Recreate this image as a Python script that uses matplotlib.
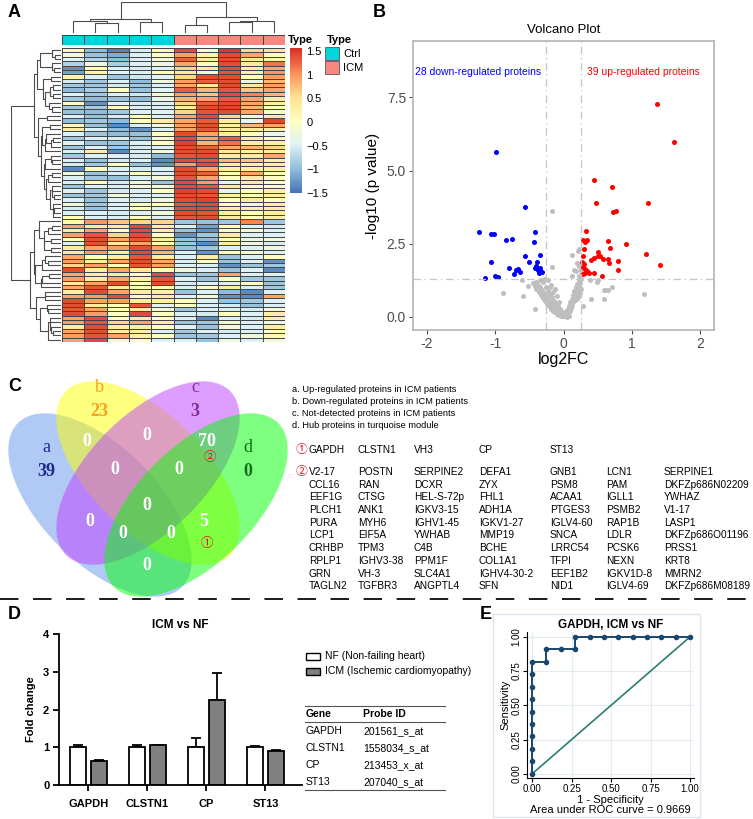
import numpy as np
import matplotlib
matplotlib.use('Agg')
import matplotlib.pyplot as plt
from matplotlib.colors import LinearSegmentedColormap, ListedColormap
from matplotlib.patches import Ellipse, Rectangle
from matplotlib.ticker import FormatStrFormatter

plt.rcParams['font.family'] = ['Liberation Sans', 'DejaVu Sans']
plt.rcParams['axes.unicode_minus'] = False

W, H = 753, 819

# ---------------- data ----------------
# A: row-scaled expression, columns Ctrl1-5, ICM1-5
heat_up = [
    [0.15, -1.0, -1.4, -0.55, 0.15, 1.4, 0.0, 1.5, 0.6, 0.45],
    [-0.2, -0.95, -1.1, -0.5, 0.0, 0.95, 0.2, 1.4, 0.9, 0.1],
    [-0.45, -0.8, -1.0, -0.5, -0.2, 1.3, 0.3, 1.4, 0.4, 0.15],
    [-0.8, -0.3, -0.85, -0.5, -0.25, 0.9, 0.05, 1.4, 0.4, 1.2],
    [-1.3, 0.1, -0.5, -0.55, -0.5, 0.6, 0.35, 1.4, 0.35, 0.9],
    [-1.2, 0.2, -0.45, -0.5, 0.05, 0.4, -0.1, 1.35, 0.3, 1.0],
    [0.2, -0.5, -0.9, -0.6, -0.45, 0.6, 1.4, 1.4, 0.0, 0.95],
    [-0.55, -0.9, -0.5, -1.0, -0.25, 0.95, 1.3, 1.4, -0.3, 0.8],
    [-0.9, -0.9, -0.55, -0.9, -0.5, 0.9, 0.35, 1.4, 0.35, 0.95],
    [-1.0, -0.85, 0.0, -0.95, -0.45, 1.3, 0.8, 1.35, 0.7, 0.9],
    [-0.5, -0.9, -0.5, -0.6, -0.2, 0.9, 0.7, 1.4, 1.1, 0.8],
    [-0.9, -1.0, -0.95, -1.0, -0.3, 0.8, 0.9, 1.3, 0.9, 0.35],
    [0.1, -1.3, -0.5, -0.55, -0.5, 0.6, 1.3, 1.4, 0.9, 0.3],
    [-0.9, -0.85, 0.05, -0.5, -0.5, 0.35, 1.4, 1.45, 0.8, 0.0],
    [-0.95, -1.0, -0.9, -0.5, -0.45, 0.6, 1.35, 1.4, 0.9, -0.1],
    [-0.5, -0.95, -0.55, 0.0, -0.5, 0.9, 1.4, 0.6, -0.2, 0.35],
    [-1.0, -0.9, -1.0, 0.05, 0.35, 0.9, 1.3, 0.35, -0.4, 1.45],
    [0.15, -0.95, -1.35, -0.5, -0.2, 0.95, 1.4, 0.3, 0.8, 0.9],
    [0.35, -0.5, -1.0, -1.3, -0.5, 0.9, 1.35, 0.35, 0.4, 0.3],
    [-0.5, -0.9, -1.0, -0.95, 0.05, 1.4, 0.9, 0.35, 0.0, -0.35],
    [-0.9, -0.5, -0.55, -0.95, -0.2, 1.4, 0.9, 1.3, 0.35, 0.05],
    [-0.5, -0.95, -0.9, -0.5, 0.0, 1.45, 0.8, 1.2, 0.3, 0.3],
    [-0.95, -0.5, -0.9, -0.55, -0.5, 1.4, 1.3, 0.9, 0.8, 0.6],
    [-0.5, 0.35, -1.35, -0.5, -0.25, 1.4, 1.4, 0.35, 0.3, 0.35],
    [-0.9, -0.5, -0.5, -0.55, -1.0, 1.35, 1.4, 0.3, 0.35, 0.9],
    [-0.5, -0.95, -0.55, -0.5, -1.35, 1.4, 1.35, 0.8, 0.7, 0.35],
    [-0.55, -0.9, 0.0, -0.95, -1.3, 0.95, 1.4, 0.35, 0.3, 0.35],
    [-1.35, 0.05, -0.5, -0.55, -0.5, 1.4, 0.9, 0.35, 0.3, 0.3],
    [-0.25, -0.95, -0.5, 0.0, -0.5, 1.4, 1.3, 0.05, 0.9, 0.0],
    [-0.5, -0.9, -0.95, -0.5, -0.2, 1.35, 0.9, 0.0, 0.35, 0.05],
    [-0.5, 0.05, -0.55, -0.25, -0.95, 1.4, 0.95, -0.4, 0.35, 0.0],
    [-0.95, -0.5, -0.5, -0.2, -0.25, 1.4, 1.35, 0.35, 0.05, 0.0],
    [-0.5, -0.9, -0.55, -0.5, 0.0, 1.45, 1.4, -0.35, 0.0, 0.3],
    [-0.95, -0.9, -0.2, -0.5, -0.5, 1.4, 1.35, 0.3, 0.0, 0.35],
    [-0.5, -0.95, -0.5, -0.55, -0.25, 1.4, 1.45, 0.0, 0.35, 0.05],
    [-0.25, -0.9, -0.5, 0.0, 0.05, 1.35, 1.4, 0.05, -0.2, 0.35],
    [-0.55, -0.95, -0.5, 0.05, -0.5, 1.4, 1.4, 0.35, 0.3, 0.35],
    [-0.5, -0.5, -0.55, -0.5, -0.2, 1.4, 1.35, 0.3, 0.0, 0.35],
    [0.05, -0.5, -0.5, 0.05, -0.5, 1.35, 1.4, 0.35, 0.05, 0.3],
]
heat_down = [
    [0.15, 1.0, 0.7, 0.6, 0.6, -0.9, -0.95, -0.9, 1.1, -0.9],
    [0.9, 0.35, 0.35, 1.4, 0.35, -0.5, -1.2, 0.0, -0.5, -0.55],
    [0.35, 0.9, 0.0, 1.4, 0.35, -0.95, -1.3, -0.2, -0.2, -0.5],
    [0.95, 1.35, 0.6, 1.4, 0.05, -1.3, -0.9, 0.35, -0.5, -0.5],
    [0.0, 1.4, 0.9, 1.35, 0.35, -0.95, -1.0, 0.05, -0.25, -0.2],
    [-0.5, 1.4, 0.35, 0.9, 0.05, -0.9, -1.35, 0.35, -0.25, -0.55],
    [0.35, 0.9, 0.95, 1.4, 0.9, -0.95, -0.9, -0.5, -0.5, -0.25],
    [0.35, 0.95, 0.35, 1.4, 0.8, -0.5, -1.3, 0.0, -0.2, -0.5],
    [0.9, 0.05, 0.35, 1.35, 0.35, -0.5, 0.35, -0.95, -0.5, 0.05],
    [0.95, 0.35, 0.9, 1.4, 0.9, -0.5, 0.0, -0.95, -0.5, -1.3],
    [0.6, 0.95, 0.05, 1.35, 0.95, -0.5, -0.5, -1.3, -0.95, -0.9],
    [1.4, 0.35, 0.9, 0.35, 0.0, -0.25, -0.5, -0.95, -0.5, -1.35],
    [0.9, 0.35, 0.35, 0.05, 1.4, -0.95, -0.9, 0.9, -0.5, -0.5],
    [0.95, 0.35, 0.9, 0.3, 1.35, -0.5, -0.95, 0.0, -0.9, -0.95],
    [0.35, 0.9, 1.4, 0.0, 1.4, -0.55, -0.5, -0.5, 0.05, -0.95],
    [0.9, 1.35, 0.35, 0.05, 0.0, -0.5, 0.05, 0.35, -0.5, -0.9],
    [0.35, 1.4, 0.9, 0.35, 0.3, -0.95, -0.5, -1.0, -1.35, -0.5],
    [0.9, 0.95, 1.4, 0.05, 0.35, -0.5, -0.2, -1.3, -1.35, 0.9],
    [1.4, 0.9, 0.95, 0.35, 0.3, 0.05, -0.5, -0.95, -0.9, -0.5],
    [1.4, 0.35, 0.0, 1.35, -0.45, 0.0, -0.5, -0.55, -0.95, -0.5],
    [1.35, 0.9, 0.05, 0.35, -0.2, -0.9, -0.5, -0.5, -0.55, -0.2],
    [1.4, 0.95, 0.0, 1.4, 0.05, -0.5, -0.55, 0.05, -0.5, 0.35],
    [0.9, 1.4, 0.05, 0.35, 0.0, -0.5, -1.35, -0.5, -0.55, 0.3],
    [0.95, 1.35, 0.6, 0.9, 0.35, -0.95, -0.9, -0.2, -0.5, -0.25],
    [0.35, 1.4, 0.35, 0.3, 0.05, -0.5, -0.95, -0.2, -0.5, 0.35],
    [0.9, 1.4, 0.35, 0.35, -0.5, -0.9, -0.5, -0.55, -0.5, 0.0],
    [0.95, 1.35, 0.9, 0.3, 0.0, -0.95, -0.9, -0.5, -0.25, 0.15],
    [0.9, 1.4, 0.05, 0.05, -0.5, -0.5, -0.95, -0.25, -0.5, -0.2],
]
sample_type = ['Ctrl', 'Ctrl', 'Ctrl', 'Ctrl', 'Ctrl', 'ICM', 'ICM', 'ICM', 'ICM', 'ICM']
cbar_ticks = [-1.5, -1, -0.5, 0, 0.5, 1, 1.5]

# B: volcano
down_x = [-0.98, -0.56, -1.23, -1.06, -1.02, -0.41, -0.84, -0.75, -0.43, -0.57, -0.35, -1.06, -0.50, -0.39,
          -0.80, -0.70, -0.67, -0.72, -0.64, -0.42, -0.38, -0.35, -0.32, -0.36, -1.15, -1.00, -0.96, -0.40]
down_y = [5.62, 3.76, 2.91, 2.82, 2.84, 2.90, 2.64, 2.65, 2.54, 2.06, 2.10, 1.87, 1.86, 1.86,
          1.66, 1.60, 1.63, 1.47, 1.54, 1.67, 1.60, 1.67, 1.54, 1.50, 1.33, 1.39, 1.37, 1.75]
up_x = [1.36, 1.62, 0.44, 0.71, 0.47, 1.24, 0.73, 0.77, 0.33, 0.29, 0.35, 0.32, 0.65, 0.92, 0.30, 0.68,
        0.51, 0.29, 0.50, 0.53, 1.20, 0.40, 0.58, 0.65, 0.275, 0.30, 0.79, 0.66, 0.28, 0.31, 1.41, 0.79,
        0.28, 0.31, 0.38, 0.44, 0.56, 0.34, 0.45]
up_y = [7.27, 5.96, 4.67, 4.45, 3.89, 3.89, 3.58, 3.60, 2.94, 2.64, 2.64, 2.54, 2.58, 2.48, 2.31, 2.34,
        2.22, 2.09, 2.08, 2.06, 2.14, 1.95, 1.99, 1.97, 1.88, 1.80, 1.90, 1.82, 1.71, 1.62, 1.77, 1.59,
        1.45, 1.48, 1.50, 1.48, 1.40, 1.55, 2.00]
ns_x = [-0.45, -0.42, -0.40, -0.38, -0.36, -0.35, -0.33, -0.32, -0.30, -0.30, -0.28, -0.27, -0.26, -0.25,
        -0.24, -0.23, -0.22, -0.21, -0.20, -0.19, -0.18, -0.17, -0.16, -0.15, -0.14, -0.13, -0.12, -0.11,
        -0.10, -0.09, -0.08, -0.07, -0.06, -0.05, -0.04, -0.03, -0.02, -0.01, -0.22, -0.18, -0.12, -0.28,
        -0.34, -0.40, -0.20, -0.15, -0.10, -0.06,
        0.00, 0.01, 0.02, 0.03, 0.04, 0.05, 0.06, 0.07, 0.08, 0.09, 0.10, 0.11, 0.12, 0.13, 0.14, 0.15,
        0.16, 0.17, 0.18, 0.19, 0.20, 0.21, 0.22, 0.23, 0.24, 0.25, 0.26, 0.24, 0.22, 0.20, 0.26, 0.25,
        0.23, 0.20, 0.22, 0.18,
        -0.17, 0.21, 0.22, 0.13, -0.17, -0.60, -0.88, -0.59, -0.42, 0.39, 0.49, 0.50, 0.71, 0.65, 0.59,
        0.61, 0.59, 1.17, 0.40, 0.29, 0.15, 0.12, -0.52, 0.08, -0.02, 0.05]
ns_y = [1.15, 1.05, 0.95, 1.10, 0.85, 1.00, 0.75, 0.90, 0.65, 1.20, 0.80, 0.55, 1.00, 0.70,
        0.45, 0.88, 0.60, 0.35, 0.78, 0.50, 0.28, 0.66, 0.40, 0.20, 0.55, 0.30, 0.15, 0.45,
        0.22, 0.10, 0.35, 0.12, 0.06, 0.25, 0.08, 0.04, 0.15, 0.03, 1.25, 1.10, 0.95, 1.30,
        1.25, 1.20, 1.00, 0.85, 0.70, 0.50,
        0.02, 0.05, 0.10, 0.04, 0.18, 0.08, 0.28, 0.14, 0.38, 0.20, 0.50, 0.30, 0.62, 0.40, 0.75, 0.52,
        0.88, 0.64, 1.00, 0.76, 1.12, 0.90, 1.25, 1.02, 1.15, 0.95, 1.30, 0.80, 0.70, 0.60, 1.45, 1.60,
        1.75, 1.85, 1.40, 1.55,
        3.62, 2.25, 2.30, 2.10, 1.70, 1.27, 0.81, 0.71, 0.27, 1.27, 1.20, 1.27, 1.00, 0.90, 0.90,
        0.93, 0.60, 0.77, 0.60, 0.36, 1.60, 1.40, 1.05, 0.02, 0.01, 0.00]

# C: venn counts and gene lists
venn_sets = ['a', 'b', 'c', 'd']
venn_only = [39, 23, 3, 0]
legend_lines = ['a. Up-regulated proteins in ICM patients',
                'b. Down-regulated proteins in ICM patients',
                'c. Not-detected proteins in ICM patients',
                'd. Hub proteins in turquoise module']
hub_genes = ['GAPDH', 'CLSTN1', 'VH3', 'CP', 'ST13']
other_genes = [
    ['V2-17', 'POSTN', 'SERPINE2', 'DEFA1', 'GNB1', 'LCN1', 'SERPINE1'],
    ['CCL16', 'RAN', 'DCXR', 'ZYX', 'PSM8', 'PAM', 'DKFZp686N02209'],
    ['EEF1G', 'CTSG', 'HEL-S-72p', 'FHL1', 'ACAA1', 'IGLL1', 'YWHAZ'],
    ['PLCH1', 'ANK1', 'IGKV3-15', 'ADH1A', 'PTGES3', 'PSMB2', 'V1-17'],
    ['PURA', 'MYH6', 'IGHV1-45', 'IGKV1-27', 'IGLV4-60', 'RAP1B', 'LASP1'],
    ['LCP1', 'EIF5A', 'YWHAB', 'MMP19', 'SNCA', 'LDLR', 'DKFZp686O01196'],
    ['CRHBP', 'TPM3', 'C4B', 'BCHE', 'LRRC54', 'PCSK6', 'PRSS1'],
    ['RPLP1', 'IGHV3-38', 'PPM1F', 'COL1A1', 'TFPI', 'NEXN', 'KRT8'],
    ['GRN', 'VH-3', 'SLC4A1', 'IGHV4-30-2', 'EEF1B2', 'IGKV1D-8', 'MMRN2'],
    ['TAGLN2', 'TGFBR3', 'ANGPTL4', 'SFN', 'NID1', 'IGLV4-69', 'DKFZp686M08189'],
]

# D: fold change
genes_d = ['GAPDH', 'CLSTN1', 'CP', 'ST13']
nf_fc = [1.0, 1.0, 1.0, 1.0]
nf_err = [0.07, 0.07, 0.24, 0.04]
icm_fc = [0.64, 1.05, 2.26, 0.90]
icm_err = [0.03, 0.02, 0.71, 0.04]
probe_ids = ['201561_s_at', '1558034_s_at', '213453_x_at', '207040_s_at']

# E: ROC
roc_fpr = [0, 0, 0, 0, 0, 0, 0, 0, 0, 0, 0.091, 0.091, 0.182, 0.273, 0.273, 0.364, 0.455, 0.545,
           0.636, 0.727, 0.818, 0.909, 1.0]
roc_tpr = [0, 0.091, 0.182, 0.273, 0.364, 0.455, 0.545, 0.636, 0.727, 0.818, 0.818, 0.909, 0.909,
           0.909, 1, 1, 1, 1, 1, 1, 1, 1, 1]


def px_axes(fig, x0, y0, x1, y1):
    return fig.add_axes([x0 / W, 1 - y1 / H, (x1 - x0) / W, (y1 - y0) / H])


def ordered_tree(mat):
    # agglomerative clustering (complete linkage) merging neighbours only, so leaf order is kept
    nodes = [([i], i + 0.5, 0.0) for i in range(len(mat))]
    links = []
    while len(nodes) > 1:
        best = None
        for k in range(len(nodes) - 1):
            d = max(np.linalg.norm(mat[i] - mat[j]) for i in nodes[k][0] for j in nodes[k + 1][0])
            if best is None or d < best[0]:
                best = (d, k)
        d, k = best
        (ma, pa, ha), (mb, pb, hb) = nodes[k], nodes[k + 1]
        h = max(d, ha, hb)
        links.append((pa, ha, pb, hb, h))
        nodes[k:k + 2] = [(ma + mb, (pa + pb) / 2, h)]
    return links


fig = plt.figure(figsize=(W / 100, H / 100), dpi=100)

# ---------------- A: heatmap ----------------
mat = np.array(heat_up + heat_down)
nrow, ncol = mat.shape
cmap = LinearSegmentedColormap.from_list('ph', ['#4575B4', '#91BFDB', '#E0F3F8', '#FFFFBF',
                                                '#FEE090', '#FC8D59', '#D73027'])
vmin, vmax = -1.5, 1.56

ax_h = px_axes(fig, 62, 48, 285, 342)
ax_h.pcolormesh(np.arange(ncol + 1), np.arange(nrow + 1), mat, cmap=cmap, vmin=vmin, vmax=vmax,
                edgecolors='#454545', linewidth=0.5)
ax_h.set_ylim(nrow, 0)
ax_h.set_xlim(0, ncol)
ax_h.axis('off')

ax_rd = px_axes(fig, 11, 48, 61, 342)
rlinks = ordered_tree(mat)
for pa, ha, pb, hb, h in rlinks:
    ax_rd.plot([ha, h, h, hb], [pa, pa, pb, pb], color='#4d4d4d', lw=0.8)
ax_rd.set_xlim(rlinks[-1][4], 0)
ax_rd.set_ylim(nrow, 0)
ax_rd.axis('off')

ax_cd = px_axes(fig, 62, 2, 285, 33)
clinks = ordered_tree(mat.T)
for pa, ha, pb, hb, h in clinks:
    ax_cd.plot([pa, pa, pb, pb], [ha, h, h, hb], color='#4d4d4d', lw=0.8)
ax_cd.set_xlim(0, ncol)
ax_cd.set_ylim(0, clinks[-1][4])
ax_cd.axis('off')

type_colors = {'Ctrl': '#00D4DC', 'ICM': '#F8877F'}
ax_an = px_axes(fig, 62, 35, 285, 45)
codes = [[0 if t == 'Ctrl' else 1 for t in sample_type]]
ax_an.pcolormesh(np.arange(ncol + 1), [0, 1], codes,
                 cmap=ListedColormap([type_colors['Ctrl'], type_colors['ICM']]),
                 vmin=0, vmax=1, edgecolors='#454545', linewidth=0.5)
ax_an.axis('off')

ax_cb = px_axes(fig, 290, 48, 302, 193)
ax_cb.imshow(np.linspace(vmax, vmin, 200).reshape(-1, 1), aspect='auto', cmap=cmap,
             extent=(0, 1, vmin, vmax), vmin=vmin, vmax=vmax)
ax_cb.set_ylim(vmin, vmax)
ax_cb.set_xticks([])
ax_cb.yaxis.tick_right()
ax_cb.set_yticks(cbar_ticks)
ax_cb.set_yticklabels([f'{t:g}'.replace('-', '\u2212') for t in cbar_ticks])
ax_cb.tick_params(length=0, pad=3, labelsize=8)
for s in ax_cb.spines.values():
    s.set_visible(False)

# ---------------- B: volcano ----------------
ax_v = px_axes(fig, 413, 41, 714, 330)
ax_v.scatter(ns_x, ns_y, s=13, color='#BEBEBE', linewidths=0)
ax_v.scatter(down_x, down_y, s=13, color='#0000FF', linewidths=0)
ax_v.scatter(up_x, up_y, s=13, color='#FF0000', linewidths=0)
for xv in (-0.263, 0.263):
    ax_v.axvline(xv, color='#C4C4C4', lw=0.9, dashes=(6, 3, 1, 3))
ax_v.axhline(1.301, color='#C4C4C4', lw=0.9, dashes=(6, 3, 1, 3))
ax_v.set_xlim(-2.2, 2.2)
ax_v.set_ylim(-0.455, 9.43)
ax_v.set_xticks([-2, -1, 0, 1, 2])
ax_v.set_yticks([0, 2.5, 5, 7.5])
ax_v.yaxis.set_major_formatter(FormatStrFormatter('%.1f'))
ax_v.tick_params(colors='#4D4D4D', labelsize=10, length=3, width=0.8, pad=2)
for s in ax_v.spines.values():
    s.set_color('#B3B3B3')
    s.set_linewidth(1.2)
ax_v.set_xlabel('log2FC', fontsize=11.5, labelpad=1)
ax_v.set_ylabel('-log10 (p value)', fontsize=11, labelpad=5)
ax_v.set_title('Volcano Plot', fontsize=9.5, pad=6)
ax_v.text(-2.17, 8.37, f'{len(down_x)} down-regulated proteins', color='#0000FF', fontsize=7.5,
          va='center')
ax_v.text(0.35, 8.37, f'{len(up_x)} up-regulated proteins', color='#FF0000', fontsize=7.5, va='center')

# ---------------- D: bars ----------------
ax_d = px_axes(fig, 59, 634, 302, 785)
xg = np.arange(len(genes_d))
ax_d.bar(xg - 0.178, nf_fc, width=0.27, color='white', edgecolor='black', linewidth=1.3, zorder=2)
ax_d.bar(xg + 0.178, icm_fc, width=0.27, color='#808080', edgecolor='black', linewidth=1.3, zorder=2)
ax_d.errorbar(xg - 0.178, nf_fc, yerr=[[0] * 4, nf_err], fmt='none', ecolor='black', elinewidth=1.3,
              capsize=3.5, capthick=1.3, zorder=1)
ax_d.errorbar(xg + 0.178, icm_fc, yerr=[[0] * 4, icm_err], fmt='none', ecolor='black', elinewidth=1.3,
              capsize=3.5, capthick=1.3, zorder=1)
ax_d.set_xlim(-0.5, 3.62)
ax_d.set_ylim(0, 4)
ax_d.set_yticks([0, 1, 2, 3, 4])
ax_d.set_xticks(xg)
ax_d.set_xticklabels(genes_d, fontweight='bold', fontsize=8)
for lab in ax_d.get_yticklabels():
    lab.set_fontweight('bold')
ax_d.tick_params(labelsize=8, width=1.3, length=4, pad=3)
ax_d.tick_params(axis='x', pad=6)
for s in ['top', 'right']:
    ax_d.spines[s].set_visible(False)
for s in ['left', 'bottom']:
    ax_d.spines[s].set_linewidth(1.3)
ax_d.set_ylabel('Fold change', fontweight='bold', fontsize=8, labelpad=5)
ax_d.set_title('ICM vs NF', fontweight='bold', fontsize=8.5, pad=4)

# ---------------- E: ROC ----------------
ax_e = px_axes(fig, 527, 632, 694, 778)
ax_e.plot([0, 1], [0, 1], color='#2C7D70', lw=1.2, zorder=2)
ax_e.plot(roc_fpr, roc_tpr, color='#1A476F', lw=1.4, marker='o', markersize=3, zorder=3)
ax_e.set_xlim(-0.032, 1.025)
ax_e.set_ylim(-0.03, 1.035)
ticks_e = [0, 0.25, 0.5, 0.75, 1.0]
ax_e.set_xticks(ticks_e)
ax_e.set_yticks(ticks_e)
ax_e.xaxis.set_major_formatter(FormatStrFormatter('%.2f'))
ax_e.yaxis.set_major_formatter(FormatStrFormatter('%.2f'))
ax_e.grid(color='#E2ECF0', lw=0.8)
ax_e.set_axisbelow(True)
ax_e.tick_params(labelsize=7, length=3, pad=1)
plt.setp(ax_e.get_yticklabels(), rotation=90, va='center')
for s in ['top', 'right']:
    ax_e.spines[s].set_visible(False)
ax_e.set_xlabel('1 - Specificity\nArea under ROC curve = 0.9669', fontsize=8, labelpad=1,
                linespacing=1.0)
ax_e.set_ylabel('Sensitivity', fontsize=8, labelpad=1)
ax_e.set_title('GAPDH, ICM vs NF', fontweight='bold', fontsize=8.5, pad=3)

# ---------------- overlay (pixel coords) ----------------
ov = fig.add_axes([0, 0, 1, 1])
ov.set_xlim(0, W)
ov.set_ylim(H, 0)
ov.axis('off')

for lab, (x, y) in zip('ABCDE', [(8, 4), (373, 4), (8, 378), (8, 606), (480, 606)]):
    ov.text(x, y, lab, fontsize=13, fontweight='bold', va='top', ha='left')

# heatmap legends
ov.text(288, 40, 'Type', fontsize=8, fontweight='bold', va='center')
ov.text(327, 40, 'Type', fontsize=8, fontweight='bold', va='center')
for i, t in enumerate(['Ctrl', 'ICM']):
    ov.add_patch(Rectangle((325, 47 + 14 * i), 14, 13, facecolor=type_colors[t], edgecolor='#555555', lw=0.6))
    ov.text(343, 54 + 14 * i, t, fontsize=8, va='center')

# venn
venn_geom = [((100, 505), 45, '#6495ED'), ((148, 473), 45, '#FFFF00'),
             ((148, 473), -45, '#BF3EFF'), ((196, 505), -45, '#00FF00')]
for (c, ang, col) in venn_geom:
    ov.add_patch(Ellipse(c, 232, 116, angle=ang, facecolor=col, alpha=0.5, edgecolor='none'))
lab_pos = [(46, 448), (99, 388), (195, 388), (248, 448)]
lab_col = ['#1C2A8C', '#F5A01E', '#7E2E93', '#107018']
for s, n, (x, y), col in zip(venn_sets, venn_only, lab_pos, lab_col):
    ov.text(x, y, s, fontsize=13, color=col, family='Liberation Serif', ha='center', va='center')
    ov.text(x, y + 23, str(n), fontsize=13, color=col, family='Liberation Serif', fontweight='bold',
            ha='center', va='center')
inner = [(87, 442, '0'), (147, 436, '0'), (207, 442, '70'), (115, 470, '0'), (179, 470, '0'),
         (147, 505, '0'), (90, 521, '0'), (204, 521, '5'), (123, 533, '0'), (171, 533, '0'),
         (147, 565, '0')]
for x, y, s in inner:
    ov.text(x, y, s, fontsize=13, color='white', family='Liberation Serif', fontweight='bold',
            ha='center', va='center')
circ_font = ['Noto Sans CJK SC', 'DejaVu Sans']
ov.text(210, 458, '\u2461', fontsize=9, color='#E8101E', family=circ_font, ha='center', va='center')
ov.text(207, 543, '\u2460', fontsize=9, color='#E8101E', family=circ_font, ha='center', va='center')

for i, line in enumerate(legend_lines):
    ov.text(292, 390 + 12 * i, line, fontsize=6.7, va='center')

col_x = [309, 358, 414, 479, 550, 606, 664]
ov.text(302, 450, '\u2460', fontsize=8.5, color='#E8101E', family=circ_font, ha='center', va='center')
for g, x in zip(hub_genes, col_x):
    ov.text(x, 450, g, fontsize=7.3, va='center')
ov.text(302, 472, '\u2461', fontsize=8.5, color='#E8101E', family=circ_font, ha='center', va='center')
for r, row in enumerate(other_genes):
    for g, x in zip(row, col_x):
        ov.text(x, 472 + 12.7 * r, g, fontsize=7.3, va='center')

# dashed separator
ov.plot([0, W], [599, 599], color='#1a1a1a', lw=1.4, dashes=(9.5, 7.5))

# D legend + probe table
ov.add_patch(Rectangle((306, 653), 14, 7, facecolor='white', edgecolor='black', lw=1.0))
ov.add_patch(Rectangle((306, 668), 14, 7, facecolor='#808080', edgecolor='black', lw=1.0))
ov.text(325, 656, 'NF (Non-failing heart)', fontsize=7.5, va='center')
ov.text(325, 671, 'ICM (Ischemic cardiomyopathy)', fontsize=7.5, va='center')
for y in (706, 722, 790):
    ov.plot([305, 445], [y, y], color='#555555', lw=0.8)
ov.text(306, 714, 'Gene', fontsize=7.5, fontweight='bold', va='center')
ov.text(363, 714, 'Probe ID', fontsize=7.5, fontweight='bold', va='center')
for i, (g, p) in enumerate(zip(genes_d, probe_ids)):
    ov.text(306, 731 + 17.1 * i, g, fontsize=7.5, va='center')
    ov.text(363, 731 + 17.1 * i, p, fontsize=7.5, va='center')

# E frame
ov.add_patch(Rectangle((493, 614), 207, 203, facecolor='none', edgecolor='#DCE5EC', lw=1.0))

fig.savefig('out.png', dpi=100, facecolor='white')
